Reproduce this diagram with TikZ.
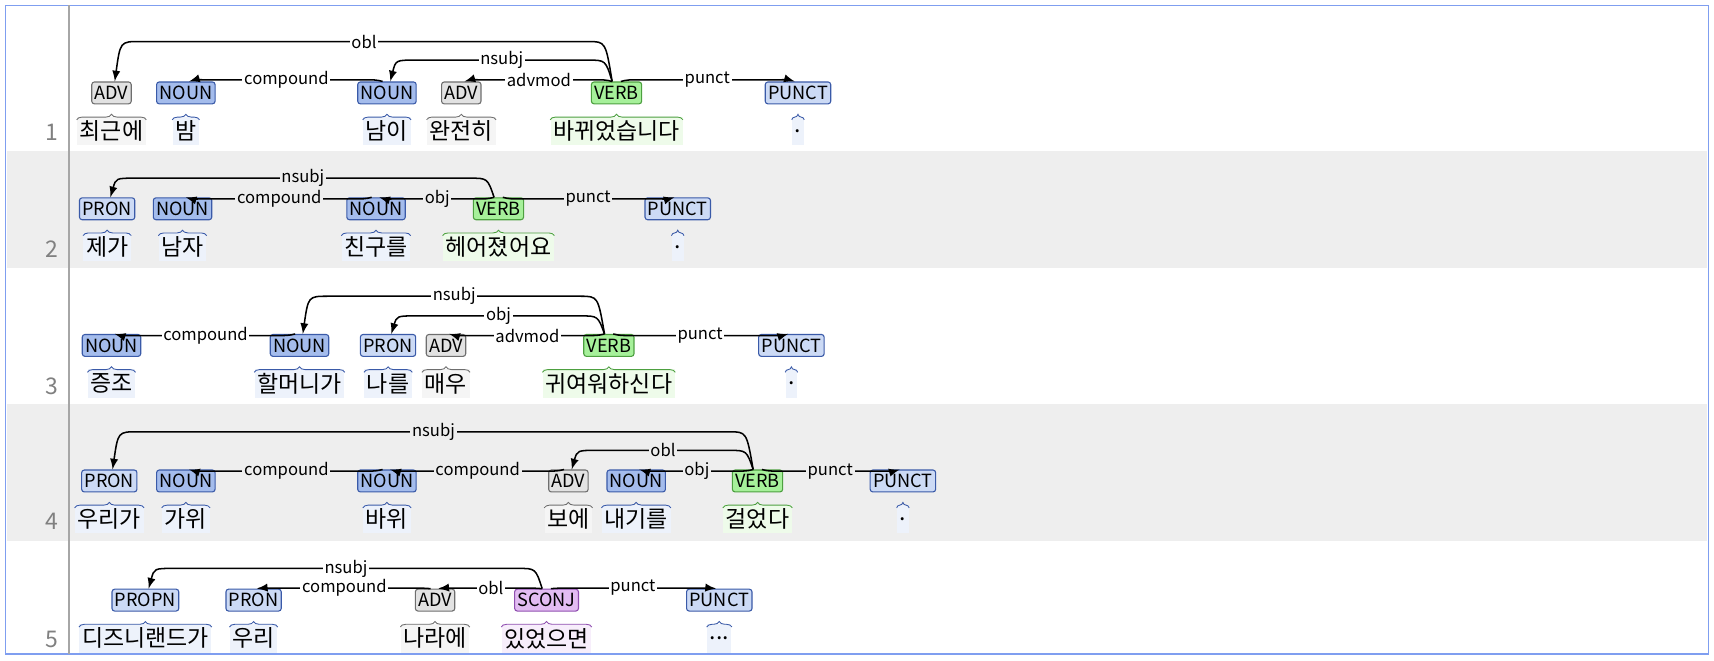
\documentclass[tikz,border=0pt]{standalone}
\usepackage{fontspec}
\setmainfont{Noto Sans CJK KR}
\usetikzlibrary{calc,decorations.pathreplacing}
\definecolor{rowgray}{HTML}{EEEEEE}
\definecolor{nounF}{HTML}{A4BCEC}\definecolor{nounD}{HTML}{3A5AA8}\definecolor{nounT}{HTML}{EDF2FB}
\definecolor{pronF}{HTML}{CCDAF5}
\definecolor{advF}{HTML}{E2E2E2}\definecolor{advD}{HTML}{6E6E6E}\definecolor{advT}{HTML}{F5F5F5}
\definecolor{verbF}{HTML}{A6F09A}\definecolor{verbD}{HTML}{4DA040}\definecolor{verbT}{HTML}{EEFBEA}
\definecolor{sconjF}{HTML}{E2BCF2}\definecolor{sconjD}{HTML}{9050B0}\definecolor{sconjT}{HTML}{F7EEFB}
\definecolor{frameC}{HTML}{7F9EF0}
\tikzset{
 tag/.style={draw=#1D,fill=#1F,rounded corners=1.2pt,inner sep=1.3pt,minimum height=10pt,font=\fontsize{8.3}{9}\selectfont,line width=0.5pt},
 ptag/.style={draw=nounD,fill=pronF,rounded corners=1.2pt,inner sep=1.3pt,minimum height=10pt,font=\fontsize{8.3}{9}\selectfont,line width=0.5pt},
 word/.style={fill=#1T,inner sep=1.2pt,font=\fontsize{10.5}{12}\selectfont,minimum height=13pt},
 arc/.style={-latex,line width=0.7pt},
 lab/.style={inner sep=0.8pt,font=\fontsize{7.6}{9}\selectfont},
 brc/.style={decorate,decoration={brace,amplitude=2.5pt},draw=#1D,line width=0.4pt},
 num/.style={text=gray,font=\fontsize{10.5}{12}\selectfont,anchor=east}
}
\newcommand\arcL[5]{\draw[arc] let \p1=(#1.north), \p2=(#2.north), \p3=(0,#3) in (\x1-2pt,\y1) .. controls (\x1-5pt,\y3) .. (\x1-13pt,\y3) -- node[lab,fill=#5]{#4} (\x2+13pt,\y3) .. controls (\x2+4pt,\y3) .. (\x2+1.5pt,\y1);}
\newcommand\arcR[5]{\draw[arc] let \p1=(#1.north), \p2=(#2.north), \p3=(0,#3) in (\x1+2pt,\y1) .. controls (\x1+5pt,\y3) .. (\x1+13pt,\y3) -- node[lab,fill=#5]{#4} (\x2-13pt,\y3) .. controls (\x2-4pt,\y3) .. (\x2-1.5pt,\y1);}
\newcommand\tw[7]{% name, x, tagy, tagtext, style, word, wordstyle
 \node[#5] (t#1) at (#2,#3) {#4};
 \node[word=#7] (w#1) at (#2,#3+35) {#6};
 \draw[brc=#7] ([yshift=-1.5pt]w#1.north west) -- ([yshift=-1.5pt]w#1.north east);}
\begin{document}
\begin{tikzpicture}[x=0.5pt,y=-0.5pt]
\useasboundingbox (0,0) rectangle (1568,604);
\fill[rowgray] (6,138) rectangle (1562,245);
\fill[rowgray] (6,370) rectangle (1562,495);
\draw[frameC,line width=0.8pt] (5,5) rectangle (1563,598);
\draw[gray!70,line width=0.8pt] (63,5) -- (63,598);
\node[num] (n1) at (60,121) {1};
\node[num] (n2) at (60,228) {2};
\node[num] (n3) at (60,353) {3};
\node[num] (n4) at (60,477) {4};
\node[num] (n5) at (60,585) {5};
% row 1
\tw{11}{102}{85}{ADV}{tag=adv}{최근에}{adv}
\tw{12}{170}{85}{NOUN}{tag=noun}{밤}{noun}
\tw{13}{354}{85}{NOUN}{tag=noun}{남이}{noun}
\tw{14}{422}{85}{ADV}{tag=adv}{완전히}{adv}
\tw{15}{564}{85}{VERB}{tag=verb}{바뀌었습니다}{verb}
\tw{16}{730}{85}{PUNCT}{ptag}{.}{noun}
\arcL{t15}{t11}{38}{obl}{white}
\arcL{t15}{t13}{55}{nsubj}{white}
\arcL{t13}{t12}{73}{compound}{white}
\arcL{t15}{t14}{73}{advmod}{white}
\arcR{t15}{t16}{73}{punct}{white}
% row 2
\tw{21}{98}{191}{PRON}{ptag}{제가}{noun}
\tw{22}{167}{191}{NOUN}{tag=noun}{남자}{noun}
\tw{23}{344}{191}{NOUN}{tag=noun}{친구를}{noun}
\tw{24}{456}{191}{VERB}{tag=verb}{헤어졌어요}{verb}
\tw{25}{620}{191}{PUNCT}{ptag}{.}{noun}
\arcL{t24}{t21}{163}{nsubj}{rowgray}
\arcL{t23}{t22}{182}{compound}{rowgray}
\arcL{t24}{t23}{182}{obj}{rowgray}
\arcR{t24}{t25}{182}{punct}{rowgray}
% row 3
\tw{31}{102}{316}{NOUN}{tag=noun}{증조}{noun}
\tw{32}{274}{316}{NOUN}{tag=noun}{할머니가}{noun}
\tw{33}{355}{316}{PRON}{ptag}{나를}{noun}
\tw{34}{408}{316}{ADV}{tag=adv}{매우}{adv}
\tw{35}{557}{316}{VERB}{tag=verb}{귀여워하신다}{verb}
\tw{36}{724}{316}{PUNCT}{ptag}{.}{noun}
\arcL{t35}{t32}{271}{nsubj}{white}
\arcL{t35}{t33}{289}{obj}{white}
\arcL{t32}{t31}{307}{compound}{white}
\arcL{t35}{t34}{307}{advmod}{white}
\arcR{t35}{t36}{307}{punct}{white}
% row 4
\tw{41}{100}{440}{PRON}{ptag}{우리가}{noun}
\tw{42}{170}{440}{NOUN}{tag=noun}{가위}{noun}
\tw{43}{354}{440}{NOUN}{tag=noun}{바위}{noun}
\tw{44}{520}{440}{ADV}{tag=adv}{보에}{adv}
\tw{45}{582}{440}{NOUN}{tag=noun}{내기를}{noun}
\tw{46}{693}{440}{VERB}{tag=verb}{걸었다}{verb}
\tw{47}{826}{440}{PUNCT}{ptag}{.}{noun}
\arcL{t46}{t41}{395}{nsubj}{rowgray}
\arcL{t46}{t44}{412}{obl}{rowgray}
\arcL{t43}{t42}{431}{compound}{rowgray}
\arcL{t44}{t43}{431}{compound}{rowgray}
\arcL{t46}{t45}{431}{obj}{rowgray}
\arcR{t46}{t47}{431}{punct}{rowgray}
% row 5
\tw{51}{133}{549}{PROPN}{ptag}{디즈니랜드가}{noun}
\tw{52}{232}{549}{PRON}{ptag}{우리}{noun}
\tw{53}{398}{549}{ADV}{tag=adv}{나라에}{adv}
\tw{54}{500}{549}{SCONJ}{tag=sconj}{있었으면}{sconj}
\tw{55}{658}{549}{PUNCT}{ptag}{...}{noun}
\arcL{t54}{t51}{520}{nsubj}{white}
\arcL{t53}{t52}{538}{compound}{white}
\arcL{t54}{t53}{538}{obl}{white}
\arcR{t54}{t55}{538}{punct}{white}
\end{tikzpicture}
\end{document}
